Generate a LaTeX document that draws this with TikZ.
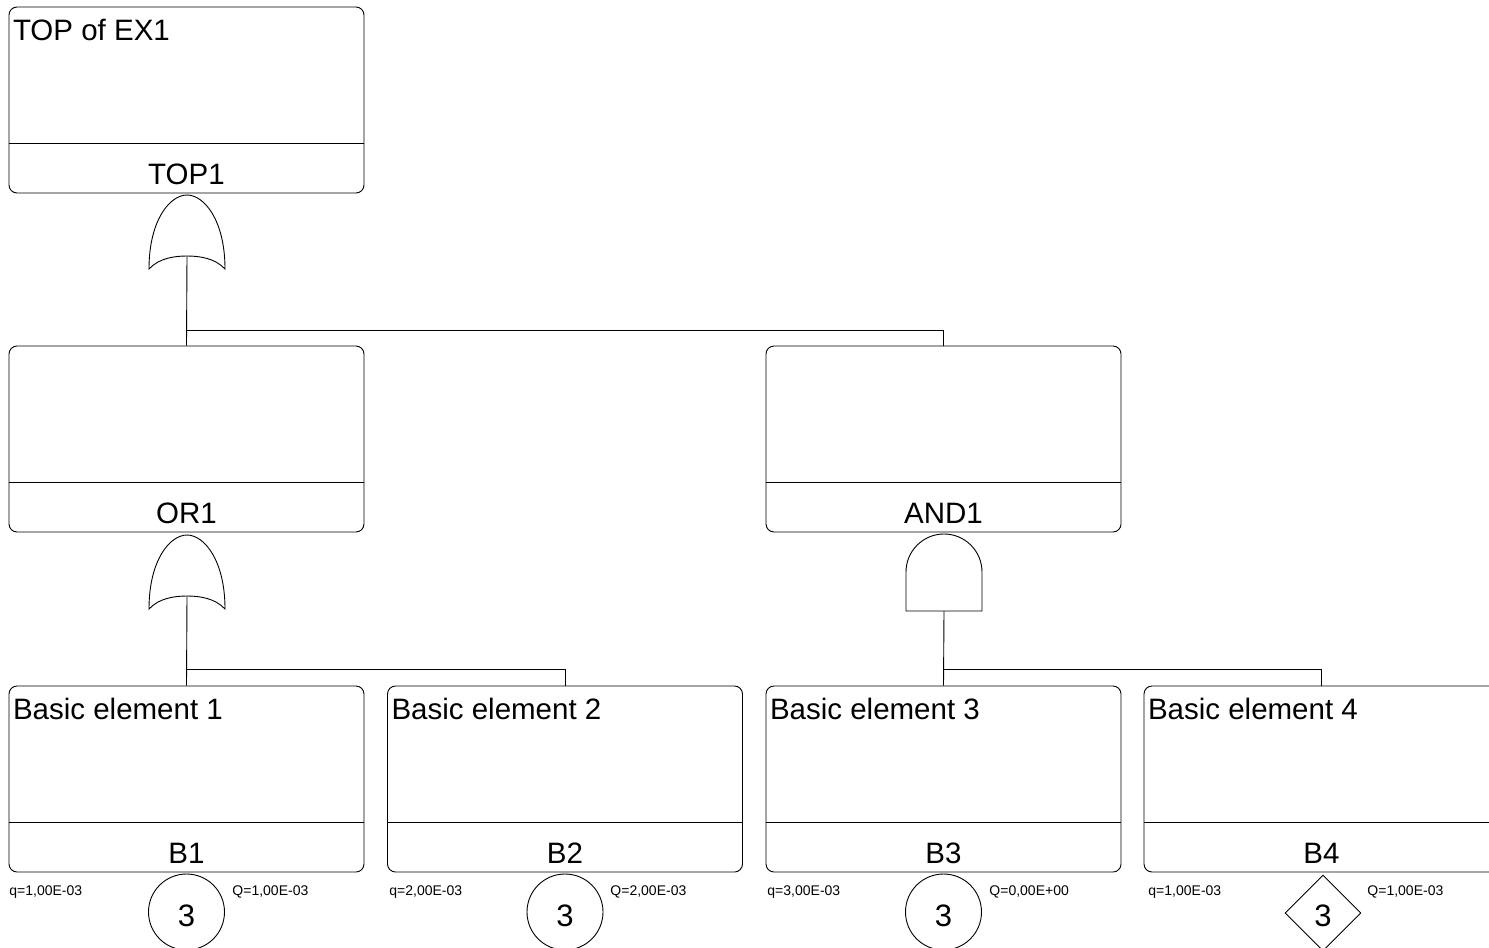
\documentclass[tikz,border=0pt]{standalone}
\usepackage{fontspec}
\setmainfont{Liberation Sans}
\usetikzlibrary{shapes.geometric}
\begin{document}
\begin{tikzpicture}[x=1pt,y=-1pt,line width=0.9pt,
  evbox/.style={draw,rounded corners=8pt,minimum width=355pt,minimum height=186pt,inner sep=0pt},
  bigtxt/.style={font=\fontsize{29.5}{31}\selectfont,inner sep=0pt},
  smalltxt/.style={font=\fontsize{14}{15}\selectfont,inner sep=0pt,anchor=base west},
  circev/.style={draw,circle,minimum size=76pt,inner sep=0pt,text height=29pt,text depth=0pt,font=\fontsize{31}{33}\selectfont},
  diaev/.style={draw,diamond,minimum width=76pt,minimum height=76pt,aspect=1,inner sep=0pt,text height=27pt,text depth=0pt,font=\fontsize{31}{33}\selectfont}]
\useasboundingbox (0,0) rectangle (1489,948);
\clip (0,0) rectangle (1489,948);
% boxes
\node[evbox] (top) at (186.5,100) {};
\node[evbox] (or1) at (186.5,439) {};
\node[evbox] (and1) at (943.5,439) {};
\node[evbox] (b1) at (186.5,779) {};
\node[evbox] (b2) at (565,779) {};
\node[evbox] (b3) at (943.5,779) {};
\node[evbox] (b4) at (1321.5,779) {};
% separators and labels
\foreach \n/\lab/\ttl in {top/TOP1/TOP of EX1, or1/OR1/, and1/AND1/, b1/B1/Basic element 1, b2/B2/Basic element 2, b3/B3/Basic element 3, b4/B4/Basic element 4}{
  \draw ([yshift=50pt]\n.south west) -- ([yshift=50pt]\n.south east);
  \node[bigtxt,anchor=base] (\n-id) at ([yshift=9pt]\n.south) {\lab};
  \node[bigtxt,anchor=base west] (\n-title) at ([xshift=4pt,yshift=-34pt]\n.north west) {\ttl};
}
% OR gate under TOP
\draw[shift={(187,195)}] (-38,74) .. controls (-38,25) and (-17,0) .. (0,0) .. controls (17,0) and (38,25) .. (38,74) .. controls (28,63) and (12,61) .. (0,61) .. controls (-12,61) and (-28,63) .. (-38,74) -- cycle;
\coordinate (g1out) at (187,256);
\coordinate (bus1) at (187,330);
\draw (g1out) -- (or1.north);
\draw (bus1) -| (and1.north);
% OR gate under OR1
\draw[shift={(187,535)}] (-38,74) .. controls (-38,25) and (-17,0) .. (0,0) .. controls (17,0) and (38,25) .. (38,74) .. controls (28,63) and (12,61) .. (0,61) .. controls (-12,61) and (-28,63) .. (-38,74) -- cycle;
\coordinate (g2out) at (187,596);
\coordinate (bus2) at (187,669);
\draw (g2out) -- (b1.north);
\draw (bus2) -| (b2.north);
% AND gate under AND1
\draw (906,611) -- (906,572) arc[start angle=180,end angle=0,radius=38pt] -- (982,611) -- cycle;
\coordinate (g3out) at (944,611);
\coordinate (bus3) at (944,669);
\draw (g3out) -- (b3.north);
\draw (bus3) -| (b4.north);
% basic event symbols
\node[circev] (c1) at (186.5,912) {3};
\node[circev] (c2) at (565,912) {3};
\node[circev] (c3) at (943.5,912) {3};
\node[diaev] (c4) at (1323,913) {3};
% q / Q labels
\node[smalltxt] (q1) at (9,895) {q=1,00E-03};
\node[smalltxt] (Q1) at (232,895) {Q=1,00E-03};
\node[smalltxt] (q2) at (389,895) {q=2,00E-03};
\node[smalltxt] (Q2) at (610,895) {Q=2,00E-03};
\node[smalltxt] (q3) at (767,895) {q=3,00E-03};
\node[smalltxt] (Q3) at (989,895) {Q=0,00E+00};
\node[smalltxt] (q4) at (1148,895) {q=1,00E-03};
\node[smalltxt] (Q4) at (1367,895) {Q=1,00E-03};
\end{tikzpicture}
\end{document}
